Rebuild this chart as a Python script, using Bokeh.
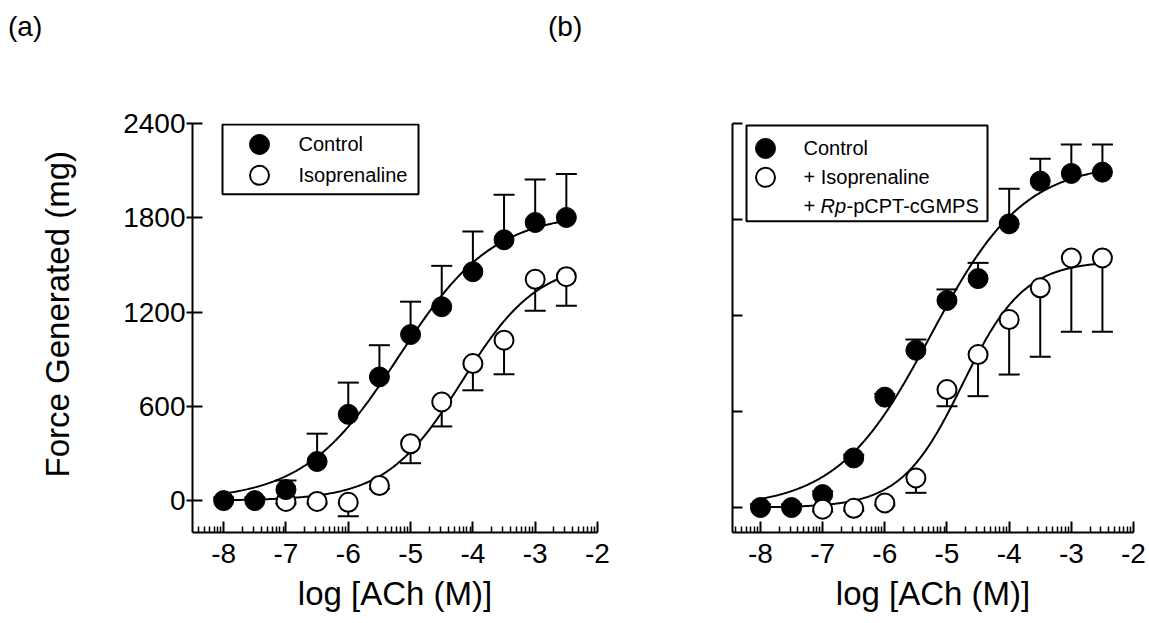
import numpy as np
from bokeh.plotting import figure
from bokeh.models import (FixedTicker, Whisker, TeeHead, ColumnDataSource, Label, Range1d, Div,
                          CustomJSTickFormatter)
from bokeh.layouts import row, column
from bokeh.embed import file_html
from bokeh.resources import INLINE

# ---------------- data ----------------
log_ach = [-8, -7.5, -7, -6.5, -6, -5.5, -5, -4.5, -4, -3.5, -3, -2.5]
log_ach_iso = [-7, -6.5, -6, -5.5, -5, -4.5, -4, -3.5, -3, -2.5]

a_control = [0, 0, 70, 249, 549, 787, 1057, 1234, 1457, 1660, 1770, 1802]
a_control_sem = [20, 20, 58, 177, 202, 202, 209, 260, 256, 287, 273, 277]
a_iso = [-5, -5, -11, 96, 362, 628, 872, 1021, 1409, 1425]
a_iso_sem = [15, 15, 89, 20, 124, 156, 170, 217, 201, 185]

b_control = [0, 0, 81, 310, 690, 983, 1294, 1431, 1773, 2040, 2088, 2096]
b_control_sem = [20, 20, 20, 20, 20, 67, 69, 98, 219, 139, 181, 173]
b_iso = [-10, -5, 29, 185, 737, 956, 1175, 1373, 1560, 1560]
b_iso_sem = [15, 15, 15, 93, 104, 260, 344, 431, 462, 462]

x_ticks = [-8, -7, -6, -5, -4, -3, -2]
y_ticks = [0, 600, 1200, 1800, 2400]

FONT = "Liberation Sans"
HEADER_H = 45
FIG_H = 576


def hill_fit(x, y):
    """Least-squares fit of a logistic (bottom = 0) to the points."""
    x = np.asarray(x, float)
    y = np.asarray(y, float)
    ecs = np.arange(-8.0, -2.0, 0.01)
    hs = np.arange(0.3, 2.5, 0.01)
    E, H = np.meshgrid(ecs, hs, indexing="ij")
    F = 1.0 / (1.0 + 10 ** ((E[..., None] - x) * H[..., None]))
    d = (F * y).sum(-1) / (F * F).sum(-1)
    sse = ((d[..., None] * F - y) ** 2).sum(-1)
    i = np.unravel_index(np.argmin(sse), sse.shape)
    return d[i], E[i], H[i]


def hill_curve(x, y, lo=-8.0, hi=-2.5):
    d, ec, h = hill_fit(x, y)
    xc = np.linspace(lo, hi, 300)
    return xc, d / (1.0 + 10 ** ((ec - xc) * h))


def minor_ticks(lo, hi):
    out = []
    for k in range(-9, -1):
        for m in range(2, 10):
            v = k + np.log10(m)
            if lo <= v <= hi:
                out.append(float(v))
    return out


def make_panel(width, geom, page_x0, show_ylabels, ytick_out):
    L, R, T, B, xr, yr = geom
    p = figure(width=width, height=FIG_H, x_range=Range1d(*xr), y_range=Range1d(*yr),
               output_backend="svg", toolbar_location=None,
               min_border_left=L - page_x0, min_border_right=width - (R - page_x0),
               min_border_top=T - HEADER_H, min_border_bottom=FIG_H - (B - HEADER_H))
    p.outline_line_color = None
    p.grid.visible = False
    p.background_fill_color = "white"
    p.border_fill_color = "white"

    xa = p.xaxis[0]
    xa.ticker = FixedTicker(ticks=x_ticks, minor_ticks=minor_ticks(xr[0], xr[1]))
    xa.formatter = CustomJSTickFormatter(code="return String(Math.round(tick));")
    xa.axis_line_width = 2
    xa.axis_line_color = "black"
    xa.major_tick_line_width = 2
    xa.major_tick_line_color = "black"
    xa.minor_tick_line_width = 1.5
    xa.minor_tick_line_color = "black"
    xa.major_tick_in = 11
    xa.major_tick_out = 0
    xa.minor_tick_in = 6
    xa.minor_tick_out = 0
    xa.major_label_text_font = FONT
    xa.major_label_text_font_size = "28px"
    xa.major_label_text_color = "black"
    xa.major_label_standoff = 11
    xa.axis_label = "log [ACh (M)]"
    xa.axis_label_text_font = FONT
    xa.axis_label_text_font_size = "33px"
    xa.axis_label_text_font_style = "normal"
    xa.axis_label_text_color = "black"
    xa.axis_label_standoff = 9

    ya = p.yaxis[0]
    ya.ticker = FixedTicker(ticks=y_ticks, minor_ticks=[])
    ya.axis_line_width = 2
    ya.axis_line_color = "black"
    ya.major_tick_line_width = 2
    ya.major_tick_line_color = "black"
    ya.major_tick_in = 10
    ya.major_tick_out = ytick_out
    ya.minor_tick_line_color = None
    ya.major_label_text_font = FONT
    ya.major_label_text_font_size = "28px"
    ya.major_label_text_color = "black"
    ya.major_label_standoff = 1
    if not show_ylabels:
        ya.major_label_text_color = None
        ya.major_label_text_font_size = "1px"
    return p


def px2data(geom, px, py):
    L, R, T, B, xr, yr = geom
    x = xr[0] + (px - L) / (R - L) * (xr[1] - xr[0])
    y = yr[0] + (B - py) / (B - T) * (yr[1] - yr[0])
    return x, y


def add_errors(p, x, y, sem, up=True):
    y = np.asarray(y, float)
    e = np.asarray(sem, float)
    head = TeeHead(size=21, line_width=2, line_color="black")
    if up:
        src = ColumnDataSource(dict(x=x, hi=y + e, lo=y))
        w = Whisker(source=src, base="x", upper="hi", lower="lo", level="underlay",
                    line_color="black", line_width=2, upper_head=head, lower_head=None)
    else:
        src = ColumnDataSource(dict(x=x, hi=y, lo=y - e))
        w = Whisker(source=src, base="x", upper="hi", lower="lo", level="underlay",
                    line_color="black", line_width=2, lower_head=head, upper_head=None)
    p.add_layout(w)


def text(p, geom, px, py, s, size, style="normal"):
    x, y = px2data(geom, px, py)
    p.add_layout(Label(x=x, y=y, text=s, text_font=FONT, text_font_size=size,
                       text_align="left", text_baseline="middle",
                       text_font_style=style, text_color="black"))


def legend_box(p, geom, l_px, t_px, r_px, b_px):
    l, t = px2data(geom, l_px, t_px)
    r, b = px2data(geom, r_px, b_px)
    p.quad(left=[l], right=[r], top=[t], bottom=[b], fill_color="white",
           line_color="black", line_width=2)


def legend_markers(p, geom, mx_px, y1_px, y2_px):
    mx, my1 = px2data(geom, mx_px, y1_px)
    _, my2 = px2data(geom, mx_px, y2_px)
    p.scatter([mx], [my1], marker="circle", size=20, fill_color="black", line_color="black")
    p.scatter([mx], [my2], marker="circle", size=19, fill_color="white",
              line_color="black", line_width=2)


# ---------------- panel (a) ----------------
geomA = (192, 597, 122, 532, (-8.5, -2.0), (-203.0, 2400.0))
pA = make_panel(628, geomA, 0, True, 6)
ya = pA.yaxis[0]
ya.axis_label = "\u00a0\u00a0\u00a0Force Generated (mg)"
ya.axis_label_text_font = FONT
ya.axis_label_text_font_size = "33px"
ya.axis_label_text_font_style = "normal"
ya.axis_label_text_color = "black"
ya.axis_label_standoff = 44

xc, yc = hill_curve(log_ach, a_control)
pA.line(xc, yc, line_color="black", line_width=2)
xc, yc = hill_curve(log_ach_iso, a_iso)
pA.line(xc, yc, line_color="black", line_width=2)
add_errors(pA, log_ach, a_control, a_control_sem, up=True)
add_errors(pA, log_ach_iso, a_iso, a_iso_sem, up=False)
pA.scatter(log_ach_iso, a_iso, marker="circle", size=19, fill_color="white",
           line_color="black", line_width=2)
pA.scatter(log_ach, a_control, marker="circle", size=20, fill_color="black",
           line_color="black")

legend_box(pA, geomA, 222, 123, 418, 193)
legend_markers(pA, geomA, 259, 143, 174)
text(pA, geomA, 298, 143, "Control", "20px")
text(pA, geomA, 298, 174, "Isoprenaline", "20px")

# ---------------- panel (b) ----------------
geomB = (732, 1133, 123, 533, (-8.45, -2.0), (-156.0, 2400.0))
pB = make_panel(520, geomB, 628, False, 0)

xc, yc = hill_curve(log_ach, b_control)
pB.line(xc, yc, line_color="black", line_width=2)
xc, yc = hill_curve(log_ach_iso, b_iso)
pB.line(xc, yc, line_color="black", line_width=2)
add_errors(pB, log_ach, b_control, b_control_sem, up=True)
add_errors(pB, log_ach_iso, b_iso, b_iso_sem, up=False)
pB.scatter(log_ach, b_control, marker="circle", size=20, fill_color="black",
           line_color="black")
pB.scatter(log_ach_iso, b_iso, marker="circle", size=19, fill_color="white",
           line_color="black", line_width=2)

legend_box(pB, geomB, 746, 125, 987, 221)
legend_markers(pB, geomB, 765, 148, 177)
text(pB, geomB, 803, 148, "Control", "20px")
text(pB, geomB, 803, 177, "+ Isoprenaline", "20px")
text(pB, geomB, 803, 206, "+", "20px")
text(pB, geomB, 820, 206, "Rp", "20px", style="italic")
text(pB, geomB, 846, 206, "-pCPT-cGMPS", "20px")

# ---------------- panel letters ----------------
STYLE = "padding:11px 0 0 8px;font-family:'Liberation Sans';font-size:28px;line-height:32px;color:black;"
divA = Div(text=f'<div style="{STYLE}">(a)</div>', width=540, height=HEADER_H, margin=0)
divB = Div(text=f'<div style="{STYLE}">(b)</div>', width=608, height=HEADER_H, margin=0)

layout = column(row(divA, divB, spacing=0), row(pA, pB, spacing=0), spacing=0)
open("out.html", "w").write(file_html(layout, INLINE))
